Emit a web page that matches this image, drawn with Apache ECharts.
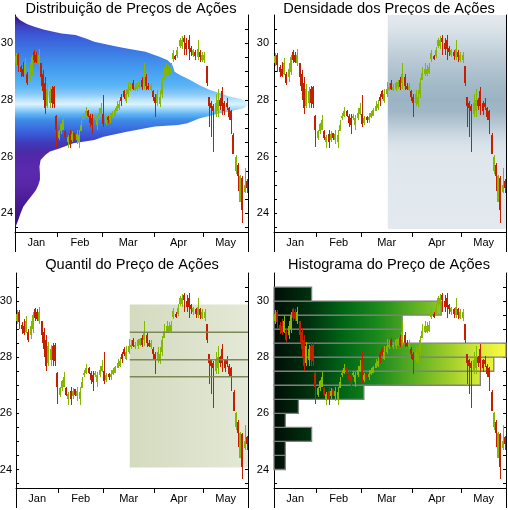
<!DOCTYPE html>
<html><head><meta charset="utf-8">
<script src="https://cdn.jsdelivr.net/npm/echarts@6/dist/echarts.min.js"></script>
<style>html,body{margin:0;padding:0;background:#fff}#c{width:508px;height:510px}</style>
</head><body><div id="c"></div>
<script>
// ---------------- data ----------------
const months = ['Jan','Feb','Mar','Apr','May'];
const monthBars = [19,20,23,22,20];
const opens = [
29.3,29.6,29.15,29.1,28.9,28.9,28.8,29.0,29.7,29.6,29.3,29.3,28.9,28.6,27.8,27.9,28.4,28.45,27.45,
26.65,26.9,26.95,26.9,26.5,26.8,26.6,26.85,26.6,26.5,26.9,27.35,27.45,27.6,27.45,27.35,27.35,27.1,27.35,27.5,
27.5,27.2,27.4,27.3,27.4,27.45,27.6,27.7,28.1,28.3,27.95,28.2,28.35,28.6,28.35,28.4,28.45,28.7,28.6,28.8,28.5,28.35,28.3,
28.1,27.9,27.85,28.2,28.7,28.9,28.9,28.95,29.45,29.55,29.55,29.9,29.9,30.2,30.0,30.1,29.85,29.6,29.7,29.5,29.7,29.4,
29.4,29.2,28.1,27.9,27.8,27.5,27.6,28.0,28.3,27.9,27.9,27.7,27.6,26.75,25.5,25.7,24.4,25.25,24.75,25.15];
const closes = [
29.55,29.25,29.0,28.85,29.3,28.6,29.1,29.5,29.4,29.35,29.6,28.8,28.3,27.7,28.4,28.3,27.9,27.85,26.95,
26.9,27.15,27.3,26.65,26.7,26.5,26.8,26.65,26.8,26.75,27.1,27.45,27.6,27.45,27.2,27.1,27.45,27.35,27.55,27.7,
27.15,27.35,27.3,27.4,27.55,27.65,27.8,27.85,27.95,28.1,28.2,28.4,28.45,28.4,28.45,28.6,28.65,28.45,28.9,28.5,28.4,28.5,28.1,
27.9,28.2,28.1,28.6,28.95,29.1,29.1,29.15,29.65,29.45,29.75,30.1,30.1,30.05,29.8,29.8,29.7,29.75,29.55,29.8,29.5,29.6,
29.6,28.6,27.8,27.7,27.6,27.9,28.0,27.8,27.8,27.6,27.75,27.4,27.3,26.1,26.0,25.3,25.3,24.1,25.0,24.9];
const lows = [
29.2,29.0,28.82,28.8,28.88,28.53,28.65,28.88,29.3,29.3,29.2,28.5,28.0,27.5,27.7,27.7,27.7,27.7,26.35,
26.59,26.8,26.94,26.6,26.3,26.3,26.5,26.6,26.45,26.3,26.9,27.3,27.4,27.4,27.05,26.8,27.3,26.94,27.3,27.47,
27.06,27.1,27.2,27.2,27.35,27.45,27.6,27.65,27.8,28.05,27.9,28.1,28.3,28.35,28.3,28.3,28.4,28.35,28.4,28.35,28.35,28.3,27.95,
27.4,27.8,27.76,28.06,28.7,28.85,28.85,28.9,29.35,29.4,29.47,29.82,29.8,29.6,29.6,29.4,29.55,29.5,29.4,29.4,29.35,29.35,
29.3,28.5,27.06,26.7,26.18,27.4,27.4,27.65,27.47,27.47,27.65,27.3,26.8,26.1,25.4,24.8,24.4,23.65,24.7,24.7];
const highs = [
29.67,29.67,29.24,29.35,29.47,29.0,29.3,29.6,29.76,29.7,29.8,29.3,29.05,28.8,28.55,28.45,28.5,28.5,27.47,
26.94,27.2,27.47,26.94,26.76,26.94,26.9,26.85,26.95,26.95,27.3,27.53,27.76,27.65,27.5,27.5,27.5,27.47,27.7,27.9,
28.17,27.45,27.45,27.55,27.6,27.7,27.95,28.0,28.2,28.35,28.4,28.65,28.6,28.7,28.55,28.65,28.7,28.8,29.3,28.9,28.6,28.6,28.35,
28.2,28.35,28.35,28.76,29.18,29.3,29.25,29.3,29.76,29.6,29.88,30.18,30.25,30.3,30.2,30.3,29.9,29.8,29.75,30.1,29.75,29.7,
29.7,29.2,28.1,27.95,27.85,28.2,28.4,28.06,28.47,27.95,28.06,27.76,27.65,26.82,26.06,25.76,25.35,25.3,25.6,25.2];

// price distribution profile (price, relative width)
const distPrice = [31.0,30.82,30.68,30.59,30.49,30.41,30.35,30.29,30.15,30.06,29.9,29.82,29.7,29.53,29.4,29.24,29.0,28.88,28.71,28.53,28.35,28.24,28.12,28.04,27.94,27.82,27.71,27.59,27.53,27.35,27.18,27.12,27.06,26.88,26.7,26.59,26.47,26.29,26.18,26.06,25.88,25.65,25.4,25.18,25.0,24.82,24.7,24.47,24.24,24.0,23.76,23.47];
const distWidth = [0.0,0.021,0.051,0.08,0.122,0.165,0.2,0.26,0.31,0.34,0.43,0.48,0.56,0.62,0.655,0.675,0.685,0.708,0.75,0.79,0.837,0.88,0.92,0.966,0.994,1.0,0.98,0.92,0.88,0.79,0.74,0.70,0.60,0.48,0.38,0.34,0.25,0.19,0.15,0.13,0.11,0.105,0.107,0.107,0.10,0.09,0.079,0.057,0.036,0.024,0.014,0.0];

const windowStart = 51;            // first bar of the analysed window
const densityRange = [23.45, 31.0];
const quantileBox = [24.07, 29.88];
const quantileLines = [27.30, 27.91, 28.89];

const histLow = [24,24.5,25,25.5,26,26.5,27,27.5,28,28.5,29,29.5,30];
const histCounts = [0.93,0.93,3.08,0.93,2.0,7.36,16.9,18.0,19,10.5,10.5,13.7,3.08];
const histMax = 19;

const yTicks = [23.5,24,24.5,25,25.5,26,26.5,27,27.5,28,28.5,29,29.5,30,30.5];
const yLabels = [24,26,28,30];
const YMIN = 23.34, YMAX = 31.0;

// ---------------- build ----------------
const N = opens.length;
const monthStarts = [], monthMids = [];
let acc = 0;
monthBars.forEach(n => { monthStarts.push(acc); monthMids.push(acc + n / 2); acc += n; });
const cats = opens.map((_, i) => String(i));
const candleData = opens.map((o, i) => [i, o, closes[i], lows[i], highs[i]]);

const FONT = '"Liberation Sans", Arial, sans-serif';
const UP = '#84b800', DOWN = '#c42000';

const panels = [
  {title:'Distribuição de Preços de Ações', left:15, top:15, width:233, height:217, lm:2, tx:131, ty:9},
  {title:'Densidade dos Preços de Ações', left:274, top:15, width:232, height:217, lm:5, tx:389, ty:9},
  {title:'Quantil do Preço de Ações', left:16, top:273, width:232, height:215, lm:4, tx:132, ty:265},
  {title:'Histograma do Preço de Ações', left:274, top:273, width:232, height:215, lm:5, tx:389, ty:265}
];

function candleItem(params, api) {
  const i = api.value(0), o = api.value(1), c = api.value(2), l = api.value(3), h = api.value(4);
  const cx = Math.round(api.coord([i, o])[0]);
  const yo = api.coord([i, o])[1], yc = api.coord([i, c])[1];
  const yl = Math.round(api.coord([i, l])[1]), yh = Math.round(api.coord([i, h])[1]);
  const col = c >= o ? UP : DOWN;
  const top = Math.round(Math.min(yo, yc)), bot = Math.round(Math.max(yo, yc));
  return {type:'group', children:[
    {type:'rect', shape:{x:cx, y:yh, width:1, height:Math.max(1, yl - yh)}, style:{fill:col}},
    {type:'rect', shape:{x:cx - 1, y:top, width:2, height:Math.max(1, bot - top)}, style:{fill:col}}
  ]};
}

const grid = [], xAxis = [], yAxis = [], series = [], graphic = [];
panels.forEach((p, k) => {
  grid.push({left:p.left, top:p.top, width:p.width, height:p.height, show:false, containLabel:false, outerBoundsMode:'none'});
  xAxis.push({gridIndex:k, type:'category', data:cats, boundaryGap:true, show:false});
  xAxis.push({gridIndex:k, type:'value', min:0, max:N, position:'bottom',
    axisLine:{show:true, onZero:false, lineStyle:{color:'#000', width:1}},
    axisTick:{show:true, inside:false, length:5, customValues:monthStarts.slice(1), lineStyle:{color:'#000'}},
    axisLabel:{show:true, customValues:monthMids, margin:5, fontSize:11, color:'#000', fontFamily:FONT,
      formatter: v => months[monthMids.indexOf(v)] || ''},
    splitLine:{show:false}});
  xAxis.push({gridIndex:k, type:'value', min:0, max:(k === 3 ? histMax : 1), show:false});
  yAxis.push({gridIndex:k, type:'value', min:YMIN, max:YMAX, position:'left',
    axisLine:{show:true, onZero:false, lineStyle:{color:'#000', width:1}},
    axisTick:{show:true, inside:true, length:3, customValues:yTicks, lineStyle:{color:'#000'}},
    axisLabel:{show:true, customValues:yLabels, margin:p.lm, fontSize:11, color:'#000', fontFamily:FONT},
    splitLine:{show:false}});
  yAxis.push({gridIndex:k, type:'value', min:YMIN, max:YMAX, position:'right',
    axisLine:{show:true, onZero:false, lineStyle:{color:'#000', width:1}},
    axisTick:{show:true, inside:true, length:3, customValues:yTicks, lineStyle:{color:'#000'}},
    axisLabel:{show:false}, splitLine:{show:false}});

  series.push({type:'custom', xAxisIndex:3*k, yAxisIndex:2*k, z:5, silent:true,
    data:candleData, encode:{x:0, y:[1,2,3,4]}, renderItem:candleItem});

  graphic.push({type:'text', x:p.tx, y:p.ty, style:{text:p.title, font:'14.6px ' + FONT, fill:'#000', textAlign:'center', textVerticalAlign:'middle'}});
  const yb = p.top + p.height;
  graphic.push({type:'line', shape:{x1:p.left + 0.5, y1:yb, x2:p.left + 0.5, y2:yb + 20}, style:{stroke:'#000', lineWidth:1}});
  graphic.push({type:'line', shape:{x1:p.left + p.width + 0.5, y1:yb, x2:p.left + p.width + 0.5, y2:yb + 20}, style:{stroke:'#000', lineWidth:1}});
});

function clamp01(v) { return Math.max(0, Math.min(1, v)); }
function vGrad(api, stops) {
  const y0 = api.coord([0, YMAX])[1], y1 = api.coord([0, YMIN])[1];
  return {type:'linear', x:0, y:y0, x2:0, y2:y1, global:true,
    colorStops: stops.map(s => ({offset:clamp01((YMAX - s[0]) / (YMAX - YMIN)), color:s[1]}))};
}

// panel 1: distribution polygon
const distColors = [[31.0,'#35096e'],[30.8,'#3b2494'],[30.6,'#3d40c0'],[30.3,'#3c58d6'],[30.0,'#3b6ade'],[29.5,'#3f86e8'],[29.0,'#46a0f0'],[28.5,'#5ab4f5'],[28.2,'#8ccaf8'],[28.0,'#bde4fd'],[27.85,'#dcf3ff'],[27.7,'#a6dafc'],[27.5,'#5fb4f4'],[27.3,'#3f8ee8'],[27.0,'#3a6ee0'],[26.7,'#3a50d0'],[26.5,'#3f3cbc'],[26.2,'#4a2ca8'],[26.0,'#5228a8'],[25.5,'#5a2aae'],[25.0,'#5826a8'],[24.5,'#4c1c98'],[24.0,'#3f1488'],[23.4,'#300870']];
series.push({type:'custom', xAxisIndex:2, yAxisIndex:0, z:1, silent:true,
  data: distPrice.map((p, i) => [distWidth[i], p]),
  renderItem: (params, api) => {
    if (params.dataIndex !== 0) return null;
    const pts = [api.coord([0, distPrice[0]])];
    distPrice.forEach((p, i) => pts.push(api.coord([distWidth[i], p])));
    pts.push(api.coord([0, distPrice[distPrice.length - 1]]));
    return {type:'polygon', shape:{points:pts}, style:{fill:vGrad(api, distColors)}};
  }});

// panel 2: density band
const densColors = [[31.0,'#e4e9ee'],[30.5,'#dbe3e9'],[30.0,'#cbd8e1'],[29.5,'#bccbd6'],[29.0,'#aec2ce'],[28.5,'#a2b9c7'],[28.0,'#9ab3c3'],[27.6,'#a0b7c6'],[27.2,'#b4c6d2'],[26.8,'#cad7e0'],[26.4,'#d9e2e9'],[26.0,'#e0e7ec'],[23.34,'#e3e9ee']];
series.push({type:'custom', xAxisIndex:4, yAxisIndex:2, z:1, silent:true,
  data:[[windowStart, densityRange[1], N, densityRange[0]]],
  renderItem: (params, api) => {
    const a = api.coord([api.value(0), api.value(1)]), b = api.coord([api.value(2), api.value(3)]);
    return {type:'rect', shape:{x:a[0], y:a[1], width:b[0] - a[0], height:b[1] - a[1]}, style:{fill:vGrad(api, densColors)}};
  }});

// panel 3: quantile box + lines
series.push({type:'custom', xAxisIndex:7, yAxisIndex:4, z:1, silent:true,
  data:[[windowStart, quantileBox[1], N, quantileBox[0]]],
  renderItem: (params, api) => {
    const a = api.coord([api.value(0), api.value(1)]), b = api.coord([api.value(2), api.value(3)]);
    return {type:'rect', shape:{x:a[0], y:a[1], width:b[0] - a[0], height:b[1] - a[1]},
      style:{fill:{type:'linear', x:0, y:0, x2:1, y2:0, colorStops:[{offset:0, color:'#d3dbbf'},{offset:1, color:'#e4e8d6'}]}}};
  }});
series.push({type:'custom', xAxisIndex:7, yAxisIndex:4, z:6, silent:true,
  data: quantileLines.map(q => [windowStart, q, N]),
  renderItem: (params, api) => {
    const a = api.coord([api.value(0), api.value(1)]), b = api.coord([api.value(2), api.value(1)]);
    return {type:'line', shape:{x1:a[0], y1:a[1], x2:b[0], y2:b[1]}, style:{stroke:'#7a8858', lineWidth:1.5}};
  }});

// panel 4: histogram
const histGrad = [[0,'#000e06'],[0.15,'#00300e'],[0.3,'#006616'],[0.45,'#1c8a1c'],[0.6,'#5aae22'],[0.75,'#9ccc2a'],[0.9,'#dcec3a'],[1,'#fafa40']];
series.push({type:'custom', xAxisIndex:11, yAxisIndex:6, z:1, silent:true,
  data: histLow.map((lo, i) => [histCounts[i], lo, lo + 0.5]),
  renderItem: (params, api) => {
    const a = api.coord([0, api.value(2)]), b = api.coord([api.value(0), api.value(1)]);
    const r = api.coord([histMax, YMIN]);
    return {type:'rect', shape:{x:a[0], y:a[1], width:b[0] - a[0], height:b[1] - a[1]},
      style:{fill:{type:'linear', x:a[0], y:0, x2:r[0], y2:0, global:true,
        colorStops:histGrad.map(s => ({offset:s[0], color:s[1]}))}, stroke:'#808080', lineWidth:1.3}};
  }});

const chart = echarts.init(document.getElementById('c'), null, {renderer:'canvas'});
chart.setOption({animation:false, backgroundColor:'#fff', grid, xAxis, yAxis, series, graphic});
</script></body></html>
